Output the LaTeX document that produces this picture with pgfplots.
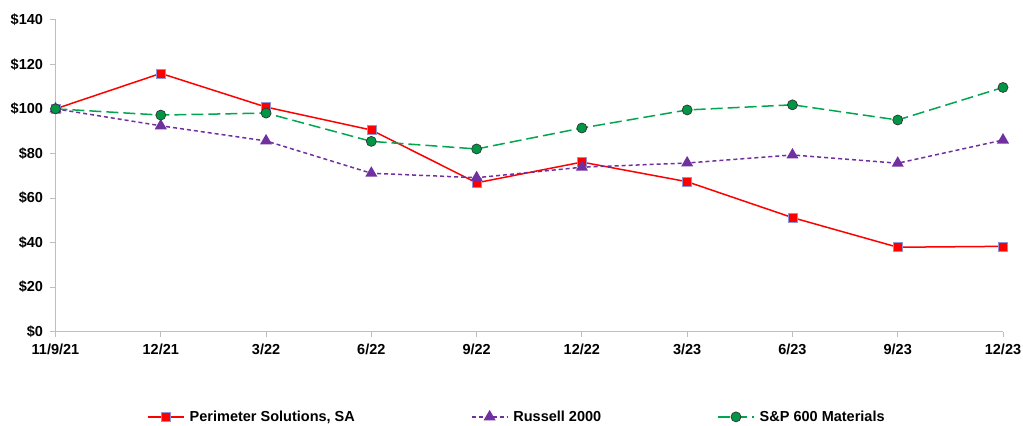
\documentclass[border=0pt]{standalone}
\usepackage{fontspec}
\setmainfont{Liberation Sans}
\usepackage{pgfplots}
\pgfplotsset{compat=1.18}
\definecolor{perired}{RGB}{255,0,0}
\definecolor{russpurple}{RGB}{112,48,160}
\definecolor{spgreen}{RGB}{0,166,80}
\definecolor{spfill}{RGB}{0,150,70}
\definecolor{sqedge}{RGB}{140,150,220}
\definecolor{axgray}{RGB}{190,190,190}
\newcommand\lbl{\fontsize{14.5bp}{17bp}\selectfont\bfseries}

\begin{document}
\begin{tikzpicture}
\path[use as bounding box] (0,0) rectangle (1023bp,426bp);
\begin{axis}[
    at={(55.5bp,94.3bp)}, anchor=south west,
    scale only axis,
    width=947.5bp, height=312bp,
    xmin=0, xmax=9, ymin=0, ymax=140,
    clip=false,
    axis lines*=left,
    axis line style={axgray, line width=1bp},
    xtick={0,...,9},
    xticklabels={11/9/21,12/21,3/22,6/22,9/22,12/22,3/23,6/23,9/23,12/23},
    ytick={0,20,...,140},
    yticklabels={\$0,\$20,\$40,\$60,\$80,\$100,\$120,\$140},
    tick align=outside,
    major tick length=5bp,
    tick style={axgray, line width=0.8bp},
    ticklabel style={font=\lbl},
    xticklabel style={yshift=-4bp},
    yticklabel style={xshift=-4bp},
    legend columns=3,
    legend style={at={(0.487,-0.273)}, anchor=center, draw=none, fill=none,
        font=\lbl, inner sep=0pt,
        /tikz/every odd column/.append style={column sep=3bp},
        /tikz/every even column/.append style={column sep=114bp}},
    legend image code/.code={
        \draw[mark repeat=2,mark phase=2,#1]
            plot coordinates {(0bp,0bp) (18bp,0bp) (36bp,0bp)};},
]
\addplot[perired, line width=1.5bp, mark=square*,
    mark options={solid, fill=perired, draw=sqedge, line width=0.6bp}, mark size=4.5bp]
  coordinates {(0,100) (1,115.9) (2,100.8) (3,90.5) (4,66.8) (5,76.1) (6,67.3) (7,51.2) (8,37.9) (9,38.3)};
\addlegendentry{Perimeter Solutions, SA}
\addplot[russpurple, line width=1.5bp, dash pattern=on 4bp off 3bp, mark=triangle*,
    mark options={solid, fill=russpurple, draw=russpurple}, mark size=5.5bp]
  coordinates {(0,100) (1,92.4) (2,85.6) (3,71.1) (4,69.1) (5,73.8) (6,75.7) (7,79.3) (8,75.6) (9,86.0)};
\addlegendentry{Russell 2000}
\addplot[spgreen, line width=1.5bp, dash pattern=on 12bp off 5bp, mark=*,
    mark options={solid, fill=spfill, draw=black!80, line width=0.7bp}, mark size=5bp]
  coordinates {(0,100) (1,97.2) (2,98.1) (3,85.4) (4,82.0) (5,91.4) (6,99.5) (7,101.8) (8,95.0) (9,109.6)};
\addlegendentry{S\&P 600 Materials}
\end{axis}
\end{tikzpicture}
\end{document}
